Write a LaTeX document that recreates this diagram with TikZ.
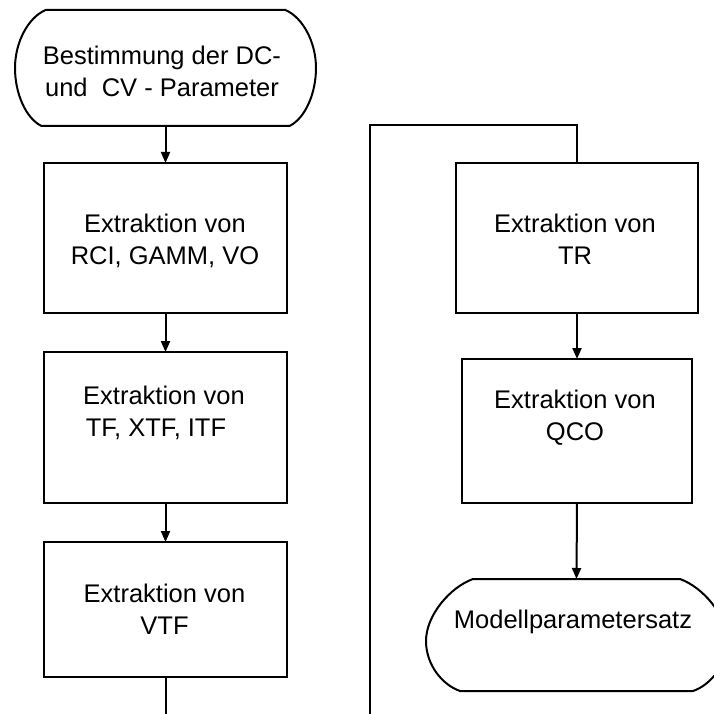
\documentclass[tikz,border=0pt]{standalone}
\usepackage{fontspec}
\setmainfont{Liberation Sans}
\usetikzlibrary{arrows.meta}
\newcommand\twol[2]{\begin{tabular}[t]{@{}c@{}}#1\\#2\end{tabular}}
\begin{document}
\begin{tikzpicture}[x=1pt,y=-1pt,
  line width=2pt,
  box/.style={draw, rectangle, inner sep=0pt, outer sep=0pt},
  hold/.style={rectangle, inner sep=0pt, outer sep=0pt},
  txt/.style={inner sep=0pt, anchor=base, font=\fontsize{25.5}{32}\selectfont},
  arr/.style={-{Triangle[length=11pt,width=9pt]}},
  con/.style={line join=miter}]
\useasboundingbox (0,0) rectangle (713,714);

% terminals (placeholders for connector anchors)
\node[hold, minimum width=301pt, minimum height=116pt] (t1) at (165.5,68) {};
\node[hold, minimum width=301pt, minimum height=112pt] (t2) at (576.5,635) {};

\begin{scope}[shift={(t1.center)}]
\draw (-120,-58) -- (120,-58) .. controls (138,-50) and (150.5,-25) .. (150.5,0)
  .. controls (150.5,25) and (140,50) .. (124,58) -- (-124,58)
  .. controls (-140,50) and (-150.5,25) .. (-150.5,0)
  .. controls (-150.5,-25) and (-138,-50) .. (-120,-58) -- cycle;
\end{scope}
\begin{scope}[shift={(t2.center)}]
\draw (-103.5,-56) -- (103.5,-56) .. controls (126,-48) and (150.5,-20) .. (150.5,6)
  .. controls (150.5,30) and (134,50) .. (116.5,56) -- (-116.5,56)
  .. controls (-134,50) and (-150.5,30) .. (-150.5,6)
  .. controls (-150.5,-20) and (-126,-48) .. (-103.5,-56) -- cycle;
\end{scope}

% process boxes
\node[box, minimum width=243pt, minimum height=150pt] (b1) at (165.5,238) {};
\node[box, minimum width=243pt, minimum height=151pt] (b2) at (165.5,427.5) {};
\node[box, minimum width=243pt, minimum height=135pt] (b3) at (165.5,609.5) {};
\node[box, minimum width=242pt, minimum height=150pt] (b4) at (577,238) {};
\node[box, minimum width=230pt, minimum height=144pt] (b5) at (577,431) {};

% texts
\node[txt] (t1txt) at (162,65) {\twol{Bestimmung der DC-}{und\ \ CV - Parameter}};
\node[txt] (b1txt) at (165,232) {\twol{Extraktion von}{RCI, GAMM, VO}};
\node[txt] (b2txt) at (164,404) {\twol{Extraktion von}{TF, XTF, ITF\kern16pt}};
\node[txt] (b3txt) at (164.5,602) {\twol{Extraktion von}{VTF}};
\node[txt] (b4txt) at (575,232) {\twol{Extraktion von}{TR}};
\node[txt] (b5txt) at (575,408) {\twol{Extraktion von}{QCO}};
\node[txt] (t2txt) at (573,628) {Modellparametersatz};

% connector end points
\coordinate (leftend) at (165.5,714);
\coordinate (rightend) at (370,714);
\coordinate (bend1) at (370,125);
\coordinate (bend2) at (577,125);

% connectors
\draw[arr] (t1.south) -- (b1.north);
\draw[arr] (b1.south) -- (b2.north);
\draw[arr] (b2.south) -- (b3.north);
\draw (b3.south) -- (leftend);
\draw[con] (rightend) -- (bend1) -- (bend2) -- (b4.north);
\draw[arr] (b4.south) -- (b5.north);
\draw[arr] (b5.south) -- (t2.north);
\end{tikzpicture}
\end{document}
